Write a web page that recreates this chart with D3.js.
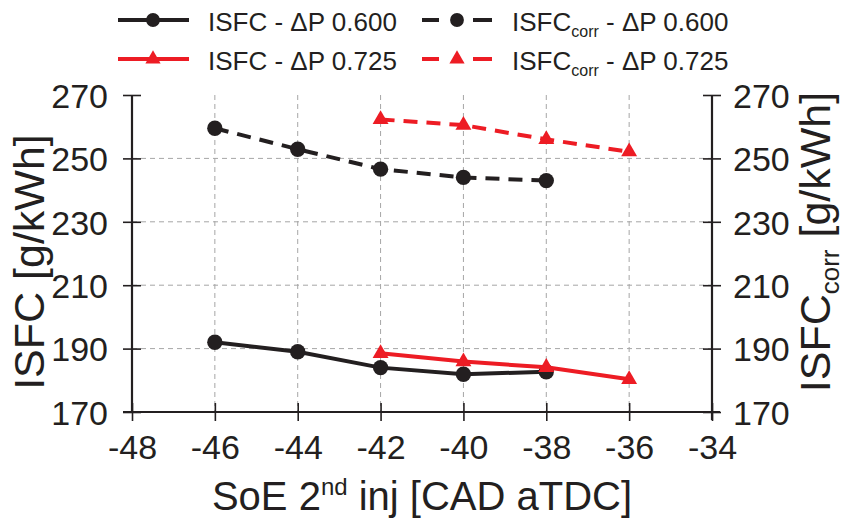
<!DOCTYPE html>
<html>
<head>
<meta charset="utf-8">
<script src="https://cdn.jsdelivr.net/npm/d3@7"></script>
<style>
  html, body { margin: 0; padding: 0; background: #fff; }
  svg { display: block; font-family: "Liberation Sans", Arial, sans-serif; }
</style>
</head>
<body>
<svg id="chart" width="846" height="525"></svg>
<script>
// ---- data ----
const xTicks = [-48, -46, -44, -42, -40, -38, -36, -34];
const yTicks = [170, 190, 210, 230, 250, 270];
const soe600 = [-46, -44, -42, -40, -38];
const isfc600 = [192, 189, 184, 181.9, 182.7];
const isfcCorr600 = [259.5, 252.9, 246.6, 244, 243];
const soe725 = [-42, -40, -38, -36];
const isfc725 = [188.5, 185.9, 184.1, 180.3];
const isfcCorr725 = [262.3, 260.5, 256, 252.1];

const BLACK = "#231f20", RED = "#ed1c24", GRID = "#a6a6a6";

const svg = d3.select("#chart");
const pLeft = 132, pRight = 712, pTop = 95, pBottom = 412;
const x = d3.scaleLinear().domain([-48, -34]).range([pLeft, pRight]);
const y = d3.scaleLinear().domain([170, 270]).range([pBottom, pTop]);
const y2 = d3.scaleLinear().domain([170, 270]).range([pBottom, pTop]);

// grid
const g = svg.append("g");
g.selectAll(".vg").data(xTicks.slice(1, -1)).enter().append("line")
  .attr("x1", d => x(d)).attr("x2", d => x(d)).attr("y1", pTop).attr("y2", pBottom)
  .attr("stroke", GRID).attr("stroke-width", 1).attr("stroke-dasharray", "5,4");
g.selectAll(".hg").data(yTicks.slice(1, -1)).enter().append("line")
  .attr("x1", pLeft).attr("x2", pRight).attr("y1", d => y(d)).attr("y2", d => y(d))
  .attr("stroke", GRID).attr("stroke-width", 1).attr("stroke-dasharray", "5,4");

// axes
function styleAxis(sel) {
  sel.select(".domain").attr("stroke", BLACK).attr("stroke-width", 2.2);
  sel.selectAll(".tick line").attr("stroke", BLACK).attr("stroke-width", 1.6);
  sel.selectAll(".tick text").attr("fill", BLACK).style("font-size", "34px")
    .style("font-family", "'Liberation Sans', Arial, sans-serif");
}
const xAxis = svg.append("g").attr("transform", `translate(0,${pBottom})`)
  .call(d3.axisBottom(x).tickValues(xTicks).tickSize(9).tickSizeOuter(0).tickPadding(14).tickFormat(d => String(d)));
styleAxis(xAxis);
xAxis.selectAll(".tick line").attr("y1", -9);
xAxis.select(".domain").attr("d", `M${pLeft - 9},0H${pRight + 8}`);

const yAxis = svg.append("g").attr("transform", `translate(${pLeft},0)`)
  .call(d3.axisLeft(y).tickValues(yTicks).tickSize(9).tickSizeOuter(0).tickPadding(15));
styleAxis(yAxis);
yAxis.selectAll(".tick line").attr("x1", 9).attr("x2", -9);
yAxis.select(".domain").attr("d", `M0,${pTop}V${pBottom}`);
yAxis.selectAll(".tick text").attr("dy", "0.36em");

const yAxis2 = svg.append("g").attr("transform", `translate(${pRight},0)`)
  .call(d3.axisRight(y2).tickValues(yTicks).tickSize(9).tickSizeOuter(0).tickPadding(12));
styleAxis(yAxis2);
yAxis2.selectAll(".tick line").attr("x1", -9).attr("x2", 9);
yAxis2.select(".domain").attr("d", `M0,${pTop}V${pBottom + 8}`);
yAxis2.selectAll(".tick text").attr("dy", "0.36em");

// series
const line = d3.line().x(d => x(d[0])).y(d => d[2](d[1]));
const series = [
  { xs: soe600, ys: isfc600, sc: y, color: BLACK, dash: null, marker: "circle" },
  { xs: soe600, ys: isfcCorr600, sc: y2, color: BLACK, dash: "14,9", marker: "circle" },
  { xs: soe725, ys: isfc725, sc: y, color: RED, dash: null, marker: "triangle" },
  { xs: soe725, ys: isfcCorr725, sc: y2, color: RED, dash: "14,9", marker: "triangle" }
];
const triSym = d3.symbol().type(d3.symbolTriangle).size(110);
const circSym = d3.symbol().type(d3.symbolCircle).size(185);
series.forEach(s => {
  const pts = s.xs.map((v, i) => [v, s.ys[i], s.sc]);
  svg.append("path").datum(pts).attr("d", line).attr("fill", "none")
    .attr("stroke", s.color).attr("stroke-width", 4)
    .attr("stroke-dasharray", s.dash);
  svg.selectAll(null).data(pts).enter().append("path")
    .attr("d", s.marker === "circle" ? circSym : triSym)
    .attr("transform", d => `translate(${x(d[0])},${d[2](d[1])})`)
    .attr("fill", s.color);
});

// legend
const legend = [
  { lx: 118, ly: 20, color: BLACK, dash: null, marker: "circle", label: ["ISFC", null, " - ΔP 0.600"] },
  { lx: 422, ly: 20, color: BLACK, dash: "17,34,19", marker: "circle", label: ["ISFC", "corr", " - ΔP 0.600"] },
  { lx: 118, ly: 59, color: RED, dash: null, marker: "triangle", label: ["ISFC", null, " - ΔP 0.725"] },
  { lx: 422, ly: 59, color: RED, dash: "17,34,19", marker: "triangle", label: ["ISFC", "corr", " - ΔP 0.725"] }
];
legend.forEach(l => {
  svg.append("line").attr("x1", l.lx).attr("x2", l.lx + 71).attr("y1", l.ly).attr("y2", l.ly)
    .attr("stroke", l.color).attr("stroke-width", 4).attr("stroke-dasharray", l.dash);
  svg.append("path").attr("d", l.marker === "circle" ? d3.symbol().type(d3.symbolCircle).size(150)() : d3.symbol().type(d3.symbolTriangle).size(100)())
    .attr("transform", `translate(${l.lx + 35},${l.ly})`).attr("fill", l.color);
  const t = svg.append("text").attr("x", l.lx + 90).attr("y", l.ly + 11)
    .attr("fill", BLACK).style("font-size", "26px");
  t.append("tspan").text(l.label[0]);
  if (l.label[1]) t.append("tspan").attr("dy", 6).style("font-size", "16px").text(l.label[1]);
  t.append("tspan").attr("dy", l.label[1] ? -6 : 0).text(l.label[2]);
});

// axis titles
const xt = svg.append("text").attr("x", (pLeft + pRight) / 2).attr("y", 510)
  .attr("text-anchor", "middle").attr("fill", BLACK).style("font-size", "40px");
xt.append("tspan").text("SoE 2");
xt.append("tspan").attr("dy", -15).style("font-size", "24px").text("nd");
xt.append("tspan").attr("dy", 15).text(" inj [CAD aTDC]");

svg.append("text").attr("transform", "translate(44,262) rotate(-90)")
  .attr("text-anchor", "middle").attr("fill", BLACK).style("font-size", "43px")
  .text("ISFC [g/kWh]");

const yt2 = svg.append("text").attr("transform", "translate(830,242) rotate(-90)")
  .attr("text-anchor", "middle").attr("fill", BLACK).style("font-size", "43px");
yt2.append("tspan").text("ISFC");
yt2.append("tspan").attr("dy", 9).style("font-size", "26px").text("corr");
yt2.append("tspan").attr("dy", -9).text(" [g/kWh]");
</script>
</body>
</html>
